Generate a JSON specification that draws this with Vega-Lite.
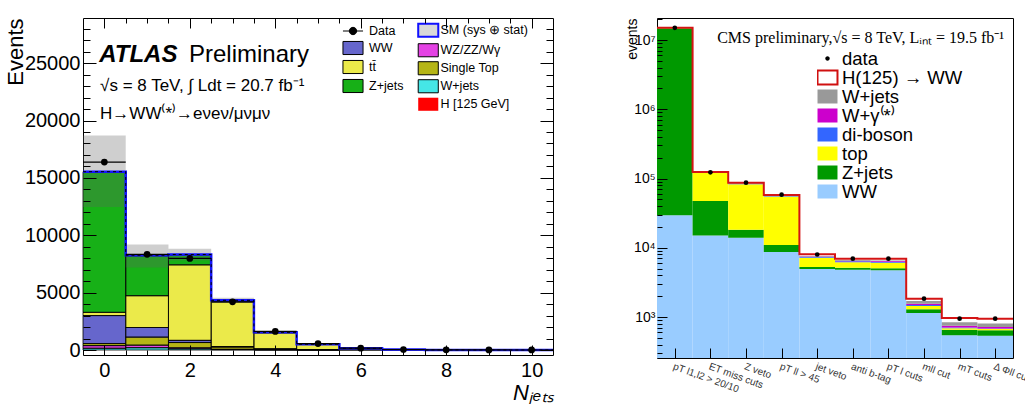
{
  "$schema": "https://vega.github.io/schema/vega-lite/v6.json",
  "padding": {"left": 3, "top": 7, "right": 0, "bottom": 0},
  "background": "#ffffff",
  "datasets": {
    "atlas": [
      {"nj": 0, "lo": -0.5, "hi": 0.5, "comp": "W+jets", "ord": 1, "val": 150},
      {"nj": 0, "lo": -0.5, "hi": 0.5, "comp": "WZ/ZZ/Wγ", "ord": 2, "val": 230},
      {"nj": 0, "lo": -0.5, "hi": 0.5, "comp": "Single Top", "ord": 3, "val": 180},
      {"nj": 0, "lo": -0.5, "hi": 0.5, "comp": "WW", "ord": 4, "val": 2440},
      {"nj": 0, "lo": -0.5, "hi": 0.5, "comp": "tt\u0304", "ord": 5, "val": 280},
      {"nj": 0, "lo": -0.5, "hi": 0.5, "comp": "Z+jets", "ord": 6, "val": 12200},
      {"nj": 0, "lo": -0.5, "hi": 0.5, "comp": "H [125 GeV]", "ord": 7, "val": 60},
      {"nj": 1, "lo": 0.5, "hi": 1.5, "comp": "W+jets", "ord": 1, "val": 200},
      {"nj": 1, "lo": 0.5, "hi": 1.5, "comp": "WZ/ZZ/Wγ", "ord": 2, "val": 220},
      {"nj": 1, "lo": 0.5, "hi": 1.5, "comp": "Single Top", "ord": 3, "val": 700},
      {"nj": 1, "lo": 0.5, "hi": 1.5, "comp": "WW", "ord": 4, "val": 840},
      {"nj": 1, "lo": 0.5, "hi": 1.5, "comp": "tt\u0304", "ord": 5, "val": 2770},
      {"nj": 1, "lo": 0.5, "hi": 1.5, "comp": "Z+jets", "ord": 6, "val": 3480},
      {"nj": 1, "lo": 0.5, "hi": 1.5, "comp": "H [125 GeV]", "ord": 7, "val": 50},
      {"nj": 2, "lo": 1.5, "hi": 2.5, "comp": "W+jets", "ord": 1, "val": 100},
      {"nj": 2, "lo": 1.5, "hi": 2.5, "comp": "WZ/ZZ/Wγ", "ord": 2, "val": 90},
      {"nj": 2, "lo": 1.5, "hi": 2.5, "comp": "Single Top", "ord": 3, "val": 460},
      {"nj": 2, "lo": 1.5, "hi": 2.5, "comp": "WW", "ord": 4, "val": 190},
      {"nj": 2, "lo": 1.5, "hi": 2.5, "comp": "tt\u0304", "ord": 5, "val": 6580},
      {"nj": 2, "lo": 1.5, "hi": 2.5, "comp": "Z+jets", "ord": 6, "val": 870},
      {"nj": 2, "lo": 1.5, "hi": 2.5, "comp": "H [125 GeV]", "ord": 7, "val": 30},
      {"nj": 3, "lo": 2.5, "hi": 3.5, "comp": "W+jets", "ord": 1, "val": 30},
      {"nj": 3, "lo": 2.5, "hi": 3.5, "comp": "WZ/ZZ/Wγ", "ord": 2, "val": 30},
      {"nj": 3, "lo": 2.5, "hi": 3.5, "comp": "Single Top", "ord": 3, "val": 200},
      {"nj": 3, "lo": 2.5, "hi": 3.5, "comp": "WW", "ord": 4, "val": 40},
      {"nj": 3, "lo": 2.5, "hi": 3.5, "comp": "tt\u0304", "ord": 5, "val": 3900},
      {"nj": 3, "lo": 2.5, "hi": 3.5, "comp": "Z+jets", "ord": 6, "val": 120},
      {"nj": 3, "lo": 2.5, "hi": 3.5, "comp": "H [125 GeV]", "ord": 7, "val": 10},
      {"nj": 4, "lo": 3.5, "hi": 4.5, "comp": "W+jets", "ord": 1, "val": 10},
      {"nj": 4, "lo": 3.5, "hi": 4.5, "comp": "WZ/ZZ/Wγ", "ord": 2, "val": 10},
      {"nj": 4, "lo": 3.5, "hi": 4.5, "comp": "Single Top", "ord": 3, "val": 60},
      {"nj": 4, "lo": 3.5, "hi": 4.5, "comp": "WW", "ord": 4, "val": 15},
      {"nj": 4, "lo": 3.5, "hi": 4.5, "comp": "tt\u0304", "ord": 5, "val": 1400},
      {"nj": 4, "lo": 3.5, "hi": 4.5, "comp": "Z+jets", "ord": 6, "val": 40},
      {"nj": 4, "lo": 3.5, "hi": 4.5, "comp": "H [125 GeV]", "ord": 7, "val": 5},
      {"nj": 5, "lo": 4.5, "hi": 5.5, "comp": "W+jets", "ord": 1, "val": 3},
      {"nj": 5, "lo": 4.5, "hi": 5.5, "comp": "WZ/ZZ/Wγ", "ord": 2, "val": 3},
      {"nj": 5, "lo": 4.5, "hi": 5.5, "comp": "Single Top", "ord": 3, "val": 20},
      {"nj": 5, "lo": 4.5, "hi": 5.5, "comp": "WW", "ord": 4, "val": 5},
      {"nj": 5, "lo": 4.5, "hi": 5.5, "comp": "tt\u0304", "ord": 5, "val": 450},
      {"nj": 5, "lo": 4.5, "hi": 5.5, "comp": "Z+jets", "ord": 6, "val": 15},
      {"nj": 5, "lo": 4.5, "hi": 5.5, "comp": "H [125 GeV]", "ord": 7, "val": 2},
      {"nj": 6, "lo": 5.5, "hi": 6.5, "comp": "Single Top", "ord": 3, "val": 8},
      {"nj": 6, "lo": 5.5, "hi": 6.5, "comp": "tt\u0304", "ord": 5, "val": 130},
      {"nj": 6, "lo": 5.5, "hi": 6.5, "comp": "Z+jets", "ord": 6, "val": 8},
      {"nj": 7, "lo": 6.5, "hi": 7.5, "comp": "Single Top", "ord": 3, "val": 2},
      {"nj": 7, "lo": 6.5, "hi": 7.5, "comp": "tt\u0304", "ord": 5, "val": 37},
      {"nj": 7, "lo": 6.5, "hi": 7.5, "comp": "Z+jets", "ord": 6, "val": 1},
      {"nj": 8, "lo": 7.5, "hi": 8.5, "comp": "tt\u0304", "ord": 5, "val": 10},
      {"nj": 9, "lo": 8.5, "hi": 9.5, "comp": "tt\u0304", "ord": 5, "val": 3},
      {"nj": 10, "lo": 9.5, "hi": 10.5, "comp": "tt\u0304", "ord": 5, "val": 1}
    ],
    "atlas_err": [
      {"lo": -0.5, "hi": 0.5, "dn": 12460, "up": 18700},
      {"lo": 0.5, "hi": 1.5, "dn": 7200, "up": 9200},
      {"lo": 1.5, "hi": 2.5, "dn": 7800, "up": 8820},
      {"lo": 2.5, "hi": 3.5, "dn": 4100, "up": 4560},
      {"lo": 3.5, "hi": 4.5, "dn": 1440, "up": 1640},
      {"lo": 4.5, "hi": 5.5, "dn": 460, "up": 540},
      {"lo": 5.5, "hi": 6.5, "dn": 130, "up": 162},
      {"lo": 6.5, "hi": 7.5, "dn": 35, "up": 45},
      {"lo": 7.5, "hi": 8.5, "dn": 8, "up": 12},
      {"lo": 8.5, "hi": 9.5, "dn": 2, "up": 4},
      {"lo": 9.5, "hi": 10.5, "dn": 0.5, "up": 1.5}
    ],
    "atlas_tot": [
      {"edge": -0.5, "tot": 15540},
      {"edge": 0.5, "tot": 8260},
      {"edge": 1.5, "tot": 8320},
      {"edge": 2.5, "tot": 4330},
      {"edge": 3.5, "tot": 1540},
      {"edge": 4.5, "tot": 498},
      {"edge": 5.5, "tot": 146},
      {"edge": 6.5, "tot": 40},
      {"edge": 7.5, "tot": 10},
      {"edge": 8.5, "tot": 3},
      {"edge": 9.5, "tot": 1},
      {"edge": 10.5, "tot": 1}
    ],
    "atlas_data": [
      {"nj": 0, "lo": -0.5, "hi": 0.5, "n": 16380},
      {"nj": 1, "lo": 0.5, "hi": 1.5, "n": 8340},
      {"nj": 2, "lo": 1.5, "hi": 2.5, "n": 7980},
      {"nj": 3, "lo": 2.5, "hi": 3.5, "n": 4200},
      {"nj": 4, "lo": 3.5, "hi": 4.5, "n": 1620},
      {"nj": 5, "lo": 4.5, "hi": 5.5, "n": 560},
      {"nj": 6, "lo": 5.5, "hi": 6.5, "n": 160},
      {"nj": 7, "lo": 6.5, "hi": 7.5, "n": 45},
      {"nj": 8, "lo": 7.5, "hi": 8.5, "n": 12},
      {"nj": 9, "lo": 8.5, "hi": 9.5, "n": 3},
      {"nj": 10, "lo": 9.5, "hi": 10.5, "n": 2}
    ],
    "cms": [
      {"i": 1, "lo": 0.5, "hi": 1.5, "comp": "WW", "ord": 1, "val": 29400},
      {"i": 1, "lo": 0.5, "hi": 1.5, "comp": "Z+jets", "ord": 2, "val": 14800000},
      {"i": 1, "lo": 0.5, "hi": 1.5, "comp": "top", "ord": 3, "val": 100000},
      {"i": 1, "lo": 0.5, "hi": 1.5, "comp": "di-boson", "ord": 4, "val": 20000},
      {"i": 1, "lo": 0.5, "hi": 1.5, "comp": "W+γ⁽*⁾", "ord": 5, "val": 5000},
      {"i": 1, "lo": 0.5, "hi": 1.5, "comp": "W+jets", "ord": 6, "val": 45000},
      {"i": 2, "lo": 1.5, "hi": 2.5, "comp": "WW", "ord": 1, "val": 15100},
      {"i": 2, "lo": 1.5, "hi": 2.5, "comp": "Z+jets", "ord": 2, "val": 32200},
      {"i": 2, "lo": 1.5, "hi": 2.5, "comp": "top", "ord": 3, "val": 72700},
      {"i": 2, "lo": 1.5, "hi": 2.5, "comp": "di-boson", "ord": 4, "val": 1200},
      {"i": 2, "lo": 1.5, "hi": 2.5, "comp": "W+γ⁽*⁾", "ord": 5, "val": 500},
      {"i": 2, "lo": 1.5, "hi": 2.5, "comp": "W+jets", "ord": 6, "val": 1500},
      {"i": 3, "lo": 2.5, "hi": 3.5, "comp": "WW", "ord": 1, "val": 14000},
      {"i": 3, "lo": 2.5, "hi": 3.5, "comp": "Z+jets", "ord": 2, "val": 4200},
      {"i": 3, "lo": 2.5, "hi": 3.5, "comp": "top", "ord": 3, "val": 64800},
      {"i": 3, "lo": 2.5, "hi": 3.5, "comp": "di-boson", "ord": 4, "val": 1500},
      {"i": 3, "lo": 2.5, "hi": 3.5, "comp": "W+γ⁽*⁾", "ord": 5, "val": 600},
      {"i": 3, "lo": 2.5, "hi": 3.5, "comp": "W+jets", "ord": 6, "val": 1400},
      {"i": 4, "lo": 3.5, "hi": 4.5, "comp": "WW", "ord": 1, "val": 8700},
      {"i": 4, "lo": 3.5, "hi": 4.5, "comp": "Z+jets", "ord": 2, "val": 2300},
      {"i": 4, "lo": 3.5, "hi": 4.5, "comp": "top", "ord": 3, "val": 44000},
      {"i": 4, "lo": 3.5, "hi": 4.5, "comp": "di-boson", "ord": 4, "val": 1200},
      {"i": 4, "lo": 3.5, "hi": 4.5, "comp": "W+γ⁽*⁾", "ord": 5, "val": 400},
      {"i": 4, "lo": 3.5, "hi": 4.5, "comp": "W+jets", "ord": 6, "val": 800},
      {"i": 5, "lo": 4.5, "hi": 5.5, "comp": "WW", "ord": 1, "val": 4930},
      {"i": 5, "lo": 4.5, "hi": 5.5, "comp": "Z+jets", "ord": 2, "val": 340},
      {"i": 5, "lo": 4.5, "hi": 5.5, "comp": "top", "ord": 3, "val": 1930},
      {"i": 5, "lo": 4.5, "hi": 5.5, "comp": "di-boson", "ord": 4, "val": 180},
      {"i": 5, "lo": 4.5, "hi": 5.5, "comp": "W+γ⁽*⁾", "ord": 5, "val": 120},
      {"i": 5, "lo": 4.5, "hi": 5.5, "comp": "W+jets", "ord": 6, "val": 100},
      {"i": 6, "lo": 5.5, "hi": 6.5, "comp": "WW", "ord": 1, "val": 4820},
      {"i": 6, "lo": 5.5, "hi": 6.5, "comp": "Z+jets", "ord": 2, "val": 330},
      {"i": 6, "lo": 5.5, "hi": 6.5, "comp": "top", "ord": 3, "val": 1020},
      {"i": 6, "lo": 5.5, "hi": 6.5, "comp": "di-boson", "ord": 4, "val": 200},
      {"i": 6, "lo": 5.5, "hi": 6.5, "comp": "W+γ⁽*⁾", "ord": 5, "val": 150},
      {"i": 6, "lo": 5.5, "hi": 6.5, "comp": "W+jets", "ord": 6, "val": 150},
      {"i": 7, "lo": 6.5, "hi": 7.5, "comp": "WW", "ord": 1, "val": 4750},
      {"i": 7, "lo": 6.5, "hi": 7.5, "comp": "Z+jets", "ord": 2, "val": 320},
      {"i": 7, "lo": 6.5, "hi": 7.5, "comp": "top", "ord": 3, "val": 1000},
      {"i": 7, "lo": 6.5, "hi": 7.5, "comp": "di-boson", "ord": 4, "val": 200},
      {"i": 7, "lo": 6.5, "hi": 7.5, "comp": "W+γ⁽*⁾", "ord": 5, "val": 150},
      {"i": 7, "lo": 6.5, "hi": 7.5, "comp": "W+jets", "ord": 6, "val": 150},
      {"i": 8, "lo": 7.5, "hi": 8.5, "comp": "WW", "ord": 1, "val": 1143},
      {"i": 8, "lo": 7.5, "hi": 8.5, "comp": "Z+jets", "ord": 2, "val": 150},
      {"i": 8, "lo": 7.5, "hi": 8.5, "comp": "top", "ord": 3, "val": 150},
      {"i": 8, "lo": 7.5, "hi": 8.5, "comp": "di-boson", "ord": 4, "val": 50},
      {"i": 8, "lo": 7.5, "hi": 8.5, "comp": "W+γ⁽*⁾", "ord": 5, "val": 66},
      {"i": 8, "lo": 7.5, "hi": 8.5, "comp": "W+jets", "ord": 6, "val": 146},
      {"i": 9, "lo": 8.5, "hi": 9.5, "comp": "WW", "ord": 1, "val": 544},
      {"i": 9, "lo": 8.5, "hi": 9.5, "comp": "Z+jets", "ord": 2, "val": 112},
      {"i": 9, "lo": 8.5, "hi": 9.5, "comp": "top", "ord": 3, "val": 30},
      {"i": 9, "lo": 8.5, "hi": 9.5, "comp": "di-boson", "ord": 4, "val": 18},
      {"i": 9, "lo": 8.5, "hi": 9.5, "comp": "W+γ⁽*⁾", "ord": 5, "val": 45},
      {"i": 9, "lo": 8.5, "hi": 9.5, "comp": "W+jets", "ord": 6, "val": 90},
      {"i": 10, "lo": 9.5, "hi": 10.5, "comp": "WW", "ord": 1, "val": 537},
      {"i": 10, "lo": 9.5, "hi": 10.5, "comp": "Z+jets", "ord": 2, "val": 106},
      {"i": 10, "lo": 9.5, "hi": 10.5, "comp": "top", "ord": 3, "val": 28},
      {"i": 10, "lo": 9.5, "hi": 10.5, "comp": "di-boson", "ord": 4, "val": 14},
      {"i": 10, "lo": 9.5, "hi": 10.5, "comp": "W+γ⁽*⁾", "ord": 5, "val": 35},
      {"i": 10, "lo": 9.5, "hi": 10.5, "comp": "W+jets", "ord": 6, "val": 84}
    ],
    "cms_tot": [
      {"edge": 0.5, "tot": 15000000},
      {"edge": 1.5, "tot": 124000},
      {"edge": 2.5, "tot": 87000},
      {"edge": 3.5, "tot": 57800},
      {"edge": 4.5, "tot": 8030},
      {"edge": 5.5, "tot": 6950},
      {"edge": 6.5, "tot": 6950},
      {"edge": 7.5, "tot": 1840},
      {"edge": 8.5, "tot": 968},
      {"edge": 9.5, "tot": 946},
      {"edge": 10.5, "tot": 946}
    ],
    "cms_data": [
      {"i": 1, "n": 15000000},
      {"i": 2, "n": 123000},
      {"i": 3, "n": 87000},
      {"i": 4, "n": 58500},
      {"i": 5, "n": 8000},
      {"i": 6, "n": 6950},
      {"i": 7, "n": 6950},
      {"i": 8, "n": 1840},
      {"i": 9, "n": 946},
      {"i": 10, "n": 946}
    ]
  },
  "hconcat": [
    {
      "width": 470,
      "height": 337,
      "resolve": {"axis": {"x": "independent", "y": "independent"}, "legend": {"color": "independent"}},
      "layer": [
        {
          "data": {"name": "atlas"},
          "transform": [{"stack": "val", "groupby": ["nj"], "sort": [{"field": "ord", "order": "ascending"}], "as": ["y0", "y1"]}],
          "mark": {"type": "bar"},
          "encoding": {
            "x": {"field": "lo", "type": "quantitative", "scale": {"domain": [-0.5, 10.5], "nice": false, "zero": false},
                  "axis": {"orient": "bottom", "values": [0, 2, 4, 6, 8, 10], "format": "d", "ticks": false, "labelFontSize": 20, "labelPadding": 5,
                           "title": "Nⱼₑₜₛ", "titleFontSize": 22, "titleFontStyle": "italic", "titleAnchor": "end", "titlePadding": 2}},
            "x2": {"field": "hi"},
            "y": {"field": "y1", "type": "quantitative", "scale": {"domain": [0, 28500], "nice": false},
                  "axis": {"orient": "left", "values": [0, 5000, 10000, 15000, 20000, 25000], "format": "d", "ticks": false, "labelFontSize": 20, "labelPadding": 3,
                           "title": "Events", "titleFontSize": 22, "titleAnchor": "end", "titlePadding": -3}},
            "y2": {"field": "y0"},
            "color": {"field": "comp", "type": "nominal",
                      "scale": {"domain": ["Data", "WW", "tt\u0304", "Z+jets", "SM (sys ⊕ stat)", "WZ/ZZ/Wγ", "Single Top", "W+jets", "H [125 GeV]"],
                                "range": ["#000000", "#6666cc", "#ebea4a", "#17b017", "#d8d8d8", "#e442e4", "#b5b516", "#45e6e6", "#ff0000"]},
                      "legend": {"orient": "none", "legendX": 260, "legendY": 3, "title": null, "values": ["Data", "WW", "tt\u0304", "Z+jets"],
                                 "symbolType": "M-1.09,-0.71H1.09V0.71H-1.09Z", "symbolSize": 339, "labelFontSize": 12.5, "labelOffset": 6, "rowPadding": 0,
                                 "encode": {"symbols": {"update": {
                                   "shape": {"signal": "datum.value === 'Data' ? 'M-1.09,0H1.09M-0.4,0A0.4,0.4 0 1,0 0.4,0A0.4,0.4 0 1,0 -0.4,0Z' : 'M-1.09,-0.71H1.09V0.71H-1.09Z'"},
                                   "stroke": {"value": "#000000"},
                                   "strokeWidth": {"value": 1},
                                   "opacity": {"value": 1}
                                 }}}}},
            "order": {"field": "ord", "type": "quantitative"}
          }
        },
        {
          "data": {"name": "atlas"},
          "transform": [{"stack": "val", "groupby": ["nj"], "sort": [{"field": "ord", "order": "ascending"}], "as": ["y0", "y1"]}],
          "mark": {"type": "bar", "fill": "transparent", "stroke": "#000000", "strokeWidth": 0.8},
          "encoding": {
            "x": {"field": "lo", "type": "quantitative", "axis": null},
            "x2": {"field": "hi"},
            "y": {"field": "y1", "type": "quantitative", "axis": null},
            "y2": {"field": "y0"}
          }
        },
        {
          "data": {"name": "atlas"},
          "transform": [{"filter": "datum.val < 0"}],
          "mark": {"type": "bar"},
          "encoding": {
            "x": {"field": "lo", "type": "quantitative", "axis": null},
            "x2": {"field": "hi"},
            "y": {"field": "val", "type": "quantitative", "axis": null, "stack": null},
            "color": {"field": "comp", "type": "nominal",
                      "legend": {"orient": "none", "legendX": 339, "legendY": 6, "title": null, "values": ["SM (sys ⊕ stat)", "WZ/ZZ/Wγ", "Single Top", "W+jets", "H [125 GeV]"],
                                 "symbolType": "M-1.09,-0.71H1.09V0.71H-1.09Z", "symbolSize": 339, "labelFontSize": 12.5, "labelOffset": 6, "rowPadding": 0,
                                 "encode": {"symbols": {"update": {
                                   "stroke": {"signal": "datum.value === 'H [125 GeV]' ? 'transparent' : (datum.value === 'W+jets' || datum.value === 'Single Top' || datum.value === 'WZ/ZZ/Wγ' ? '#000000' : '#1010ff')"},
                                   "strokeWidth": {"signal": "datum.value === 'H [125 GeV]' || datum.value === 'W+jets' || datum.value === 'Single Top' || datum.value === 'WZ/ZZ/Wγ' ? 1 : 2"},
                                   "opacity": {"value": 1}
                                 }}}}}
          }
        },
        {
          "data": {"name": "atlas_err"},
          "mark": {"type": "bar", "fill": "#606060", "fillOpacity": 0.3},
          "encoding": {
            "x": {"field": "lo", "type": "quantitative", "axis": null},
            "x2": {"field": "hi"},
            "y": {"field": "up", "type": "quantitative", "axis": null},
            "y2": {"field": "dn"}
          }
        },
        {
          "data": {"name": "atlas_tot"},
          "mark": {"type": "line", "interpolate": "step-after", "stroke": "#1414ff", "strokeWidth": 2.5},
          "encoding": {
            "x": {"field": "edge", "type": "quantitative", "axis": null},
            "y": {"field": "tot", "type": "quantitative", "axis": null}
          }
        },
        {
          "data": {"name": "atlas_tot"},
          "mark": {"type": "line", "interpolate": "step-after", "stroke": "#000000", "strokeWidth": 1, "strokeDash": [3, 3]},
          "encoding": {
            "x": {"field": "edge", "type": "quantitative", "axis": null},
            "y": {"field": "tot", "type": "quantitative", "axis": null}
          }
        },
        {
          "data": {"name": "atlas_data"},
          "mark": {"type": "rule", "stroke": "#000000", "strokeWidth": 1.2},
          "encoding": {
            "x": {"field": "lo", "type": "quantitative", "axis": null},
            "x2": {"field": "hi"},
            "y": {"field": "n", "type": "quantitative", "axis": null}
          }
        },
        {
          "data": {"name": "atlas_data"},
          "mark": {"type": "point", "filled": true, "fill": "#000000", "stroke": null, "size": 45, "opacity": 1},
          "encoding": {
            "x": {"field": "nj", "type": "quantitative", "axis": null},
            "y": {"field": "n", "type": "quantitative", "axis": null}
          }
        },
        {
          "data": {"values": [{}]},
          "mark": {"type": "text", "text": "ATLAS", "font": "Liberation Sans", "fontSize": 24, "fontWeight": "bold", "fontStyle": "italic", "align": "left", "baseline": "alphabetic", "color": "#000000"},
          "encoding": {"x": {"datum": -0.12, "type": "quantitative", "axis": null}, "y": {"datum": 25100, "type": "quantitative", "axis": null}}
        },
        {
          "data": {"values": [{}]},
          "mark": {"type": "text", "text": "Preliminary", "font": "Liberation Sans", "fontSize": 24, "align": "left", "baseline": "alphabetic", "color": "#000000"},
          "encoding": {"x": {"datum": 1.98, "type": "quantitative", "axis": null}, "y": {"datum": 25100, "type": "quantitative", "axis": null}}
        },
        {
          "data": {"values": [{}]},
          "mark": {"type": "text", "text": "√s = 8 TeV, ∫ Ldt = 20.7 fb⁻¹", "font": "Liberation Sans", "fontSize": 17, "align": "left", "baseline": "alphabetic", "color": "#000000"},
          "encoding": {"x": {"datum": -0.1, "type": "quantitative", "axis": null}, "y": {"datum": 22600, "type": "quantitative", "axis": null}}
        },
        {
          "data": {"values": [{}]},
          "mark": {"type": "text", "text": "H→WW⁽*⁾→eνeν/μνμν", "font": "Liberation Sans", "fontSize": 17, "align": "left", "baseline": "alphabetic", "color": "#000000"},
          "encoding": {"x": {"datum": -0.1, "type": "quantitative", "axis": null}, "y": {"datum": 20100, "type": "quantitative", "axis": null}}
        },
        {
          "data": {"name": "atlas_tot"},
          "mark": {"type": "point", "opacity": 0},
          "encoding": {
            "x": {"field": "edge", "type": "quantitative", "axis": {"orient": "bottom", "values": [0, 2, 4, 6, 8, 10], "labels": false, "title": null, "tickSize": -10, "zindex": 1}},
            "y": {"field": "tot", "type": "quantitative", "axis": {"orient": "left", "values": [0, 5000, 10000, 15000, 20000, 25000], "labels": false, "title": null, "tickSize": -13, "zindex": 1}}
          }
        },
        {
          "data": {"name": "atlas_tot"},
          "mark": {"type": "point", "opacity": 0},
          "encoding": {
            "x": {"field": "edge", "type": "quantitative", "axis": {"orient": "bottom", "values": [0.5, 1, 1.5, 2.5, 3, 3.5, 4.5, 5, 5.5, 6.5, 7, 7.5, 8.5, 9, 9.5], "labels": false, "title": null, "tickSize": -5, "zindex": 1}},
            "y": {"field": "tot", "type": "quantitative", "axis": {"orient": "left", "values": [1000, 2000, 3000, 4000, 6000, 7000, 8000, 9000, 11000, 12000, 13000, 14000, 16000, 17000, 18000, 19000, 21000, 22000, 23000, 24000, 26000, 27000, 28000], "labels": false, "title": null, "tickSize": -7, "zindex": 1}}
          }
        },
        {
          "data": {"name": "atlas_tot"},
          "mark": {"type": "point", "opacity": 0},
          "encoding": {
            "x": {"field": "edge", "type": "quantitative", "axis": {"orient": "top", "values": [0, 2, 4, 6, 8, 10], "labels": false, "title": null, "tickSize": -10, "zindex": 1}},
            "y": {"field": "tot", "type": "quantitative", "axis": {"orient": "right", "values": [0, 5000, 10000, 15000, 20000, 25000], "labels": false, "title": null, "tickSize": -13, "zindex": 1}}
          }
        },
        {
          "data": {"name": "atlas_tot"},
          "mark": {"type": "point", "opacity": 0},
          "encoding": {
            "x": {"field": "edge", "type": "quantitative", "axis": {"orient": "top", "values": [0.5, 1, 1.5, 2.5, 3, 3.5, 4.5, 5, 5.5, 6.5, 7, 7.5, 8.5, 9, 9.5], "labels": false, "title": null, "tickSize": -5, "zindex": 1}},
            "y": {"field": "tot", "type": "quantitative", "axis": {"orient": "right", "values": [1000, 2000, 3000, 4000, 6000, 7000, 8000, 9000, 11000, 12000, 13000, 14000, 16000, 17000, 18000, 19000, 21000, 22000, 23000, 24000, 26000, 27000, 28000], "labels": false, "title": null, "tickSize": -7, "zindex": 1}}
          }
        }
      ]
    },
    {
      "width": 356,
      "height": 340,
      "title": {"text": " ", "fontSize": 6, "offset": 4},
      "resolve": {"axis": {"x": "independent", "y": "independent"}},
      "layer": [
        {
          "data": {"name": "cms"},
          "transform": [{"stack": "val", "groupby": ["i"], "sort": [{"field": "ord", "order": "ascending"}], "as": ["y0", "y1"]}],
          "mark": {"type": "bar", "invalid": "show"},
          "encoding": {
            "x": {"field": "lo", "type": "quantitative", "scale": {"domain": [0.5, 10.5], "nice": false, "zero": false},
                  "axis": {"orient": "bottom", "values": [1, 2, 3, 4, 5, 6, 7, 8, 9, 10], "ticks": false, "labelOverlap": false,
                           "labelExpr": "['pT l1,l2 > 20/10', 'ET miss cuts', 'Z veto', 'pT ll > 45', 'jet veto', 'anti b-tag', 'pT l cuts', 'mll cut', 'mT cuts', 'Δ Φll cut'][datum.value - 1]",
                           "labelAngle": 20, "labelAlign": "left", "labelBaseline": "top", "labelFontSize": 10, "labelColor": "#333333", "labelPadding": 3, "labelDx": -8, "title": null}},
            "x2": {"field": "hi"},
            "y": {"field": "y1", "type": "quantitative", "scale": {"type": "log", "domain": [256, 20800000], "nice": false, "clamp": true},
                  "axis": {"orient": "left", "values": [1000, 10000, 100000, 1000000, 10000000], "ticks": false,
                           "labelExpr": "datum.value == 1000 ? '10³' : datum.value == 10000 ? '10⁴' : datum.value == 100000 ? '10⁵' : datum.value == 1000000 ? '10⁶' : '10⁷'",
                           "labelFontSize": 14, "labelPadding": 2, "title": "events", "titleFontSize": 14, "titleAnchor": "end", "titlePadding": -6}},
            "y2": {"field": "y0"},
            "color": {"field": "comp", "type": "nominal",
                      "scale": {"domain": ["data", "H(125) → WW", "W+jets", "W+γ⁽*⁾", "di-boson", "top", "Z+jets", "WW"],
                                "range": ["#000000", "#ffffff", "#999999", "#cc00cc", "#3366ff", "#ffff00", "#009900", "#99ccff"]},
                      "legend": {"orient": "none", "legendX": 160, "legendY": 31, "title": null,
                                 "symbolType": "M-1.08,-0.75H1.08V0.75H-1.08Z", "symbolSize": 342, "labelFontSize": 18.5, "labelOffset": 4, "rowPadding": 0, "clipHeight": 19,
                                 "encode": {"symbols": {"update": {
                                   "shape": {"signal": "datum.value === 'data' ? 'M-0.24,0A0.24,0.24 0 1,0 0.24,0A0.24,0.24 0 1,0 -0.24,0Z' : 'M-1.08,-0.75H1.08V0.75H-1.08Z'"},
                                   "stroke": {"signal": "datum.value === 'H(125) → WW' ? '#d01010' : 'transparent'"},
                                   "strokeWidth": {"value": 2},
                                   "opacity": {"value": 1}
                                 }}}}}
          }
        },
        {
          "data": {"name": "cms_tot"},
          "mark": {"type": "line", "interpolate": "step-after", "stroke": "#d41414", "strokeWidth": 2},
          "encoding": {
            "x": {"field": "edge", "type": "quantitative", "axis": null},
            "y": {"field": "tot", "type": "quantitative", "axis": null}
          }
        },
        {
          "data": {"name": "cms_data"},
          "mark": {"type": "point", "filled": true, "fill": "#000000", "stroke": null, "size": 22, "opacity": 1},
          "encoding": {
            "x": {"field": "i", "type": "quantitative", "axis": null},
            "y": {"field": "n", "type": "quantitative", "axis": null}
          }
        },
        {
          "data": {"values": [{}]},
          "mark": {"type": "text", "text": "CMS preliminary,√s = 8 TeV, Lᵢₙₜ = 19.5 fb⁻¹", "font": "Liberation Serif", "fontSize": 16, "align": "right", "baseline": "alphabetic", "color": "#000000"},
          "encoding": {"x": {"datum": 10.25, "type": "quantitative", "axis": null}, "y": {"datum": 9100000, "type": "quantitative", "axis": null}}
        },
        {
          "data": {"name": "cms_tot"},
          "mark": {"type": "point", "opacity": 0},
          "encoding": {
            "x": {"field": "edge", "type": "quantitative", "axis": {"orient": "bottom", "values": [1, 2, 3, 4, 5, 6, 7, 8, 9, 10], "labels": false, "title": null, "tickSize": -10, "zindex": 1}},
            "y": {"field": "tot", "type": "quantitative", "axis": {"orient": "left", "values": [1000, 10000, 100000, 1000000, 10000000], "labels": false, "title": null, "tickSize": -10, "zindex": 1}}
          }
        },
        {
          "data": {"name": "cms_tot"},
          "mark": {"type": "point", "opacity": 0},
          "encoding": {
            "x": {"field": "edge", "type": "quantitative", "axis": null},
            "y": {"field": "tot", "type": "quantitative", "axis": {"orient": "left", "values": [300, 400, 500, 600, 700, 800, 900, 2000, 3000, 4000, 5000, 6000, 7000, 8000, 9000, 20000, 30000, 40000, 50000, 60000, 70000, 80000, 90000, 200000, 300000, 400000, 500000, 600000, 700000, 800000, 900000, 2000000, 3000000, 4000000, 5000000, 6000000, 7000000, 8000000, 9000000, 20000000], "labels": false, "title": null, "tickSize": -5, "zindex": 1}}
          }
        }
      ]
    }
  ],
  "spacing": 65,
  "resolve": {"scale": {"x": "independent", "y": "independent", "color": "independent"}, "legend": {"color": "independent"}},
  "config": {
    "view": {"stroke": "#000000", "strokeWidth": 1},
    "axis": {"grid": false, "domain": false, "labelFont": "Liberation Sans", "titleFont": "Liberation Sans", "labelColor": "#000000", "titleColor": "#000000", "titleFontWeight": "normal", "tickColor": "#000000", "tickWidth": 1},
    "legend": {"padding": 0, "labelFont": "Liberation Sans", "labelColor": "#000000"},
    "title": {"font": "Liberation Sans"}
  }
}
